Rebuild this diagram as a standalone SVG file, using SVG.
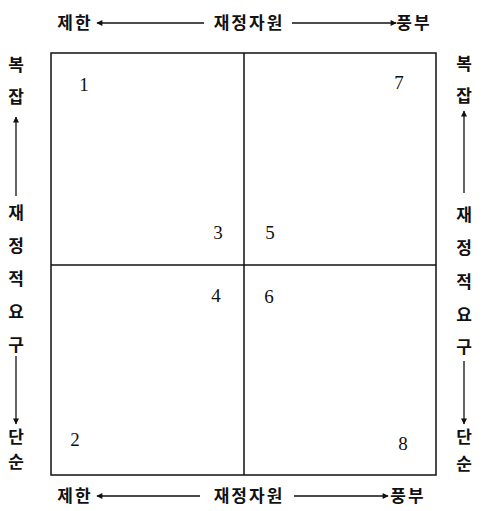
<svg xmlns="http://www.w3.org/2000/svg" width="483" height="511" viewBox="0 0 483 511">
<defs>
<marker id="ah" viewBox="0 0 10 10" refX="9" refY="5" markerWidth="8" markerHeight="6" markerUnits="userSpaceOnUse" orient="auto"><path d="M0,0 L10,5 L0,10 z" fill="#111"/></marker>
</defs>
<style>
.k{font-family:"Noto Sans CJK KR","Noto Sans",sans-serif;font-size:17px;font-weight:bold;fill:#111;text-anchor:middle}
.h{letter-spacing:2px}
.n{font-family:"Liberation Serif",serif;font-size:19px;fill:#111;text-anchor:middle}
.ln{stroke:#111;stroke-width:1.5;fill:none}
.ar{stroke:#111;stroke-width:1.3;fill:none;marker-end:url(#ah)}
</style>
<rect width="483" height="511" fill="#fff"/>
<g id="grid">
<rect class="ln" x="51" y="53" width="385" height="422"/>
<line class="ln" x1="244" y1="53" x2="244" y2="475"/>
<line class="ln" x1="51" y1="265" x2="436" y2="265"/>
</g>
<g id="numbers">
<text class="n" x="84" y="91">1</text>
<text class="n" x="399" y="89">7</text>
<text class="n" x="218" y="239">3</text>
<text class="n" x="270" y="239">5</text>
<text class="n" x="216" y="302">4</text>
<text class="n" x="269" y="303">6</text>
<text class="n" x="75" y="446">2</text>
<text class="n" x="403" y="450">8</text>
</g>
<g id="top-axis">
<text class="k h" x="75" y="29">제한</text>
<text class="k h" x="249" y="29">재정자원</text>
<text class="k h" x="414" y="29">풍부</text>
</g>
<g id="bottom-axis">
<text class="k h" x="75" y="502">제한</text>
<text class="k h" x="249" y="502">재정자원</text>
<text class="k h" x="408" y="502">풍부</text>
</g>
<g id="left-axis">
<text class="k" x="16" y="71">복</text>
<text class="k" x="16" y="103">잡</text>
<text class="k" x="16" y="219">재</text>
<text class="k" x="16" y="252">정</text>
<text class="k" x="16" y="285">적</text>
<text class="k" x="16" y="318">요</text>
<text class="k" x="16" y="351">구</text>
<text class="k" x="16" y="443">단</text>
<text class="k" x="16" y="468">순</text>
</g>
<g id="right-axis">
<text class="k" x="464" y="70">복</text>
<text class="k" x="464" y="102">잡</text>
<text class="k" x="464" y="221">재</text>
<text class="k" x="464" y="254">정</text>
<text class="k" x="464" y="288">적</text>
<text class="k" x="464" y="321">요</text>
<text class="k" x="464" y="353">구</text>
<text class="k" x="464" y="443">단</text>
<text class="k" x="464" y="470">순</text>
</g>
<g id="connectors">
<line class="ar" x1="204" y1="23" x2="97" y2="23"/>
<line class="ar" x1="292" y1="23" x2="396" y2="23"/>
<line class="ar" x1="200" y1="496" x2="97" y2="496"/>
<line class="ar" x1="294" y1="496" x2="388" y2="496"/>
<line class="ar" x1="16" y1="196" x2="16" y2="117"/>
<line class="ar" x1="16" y1="356" x2="16" y2="424"/>
<line class="ar" x1="464" y1="193" x2="464" y2="111"/>
<line class="ar" x1="464" y1="361" x2="464" y2="424"/>
</g>
</svg>
